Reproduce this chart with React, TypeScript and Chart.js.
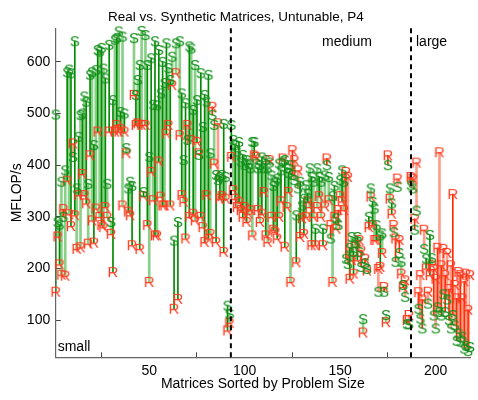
import React, { useEffect, useRef } from 'react';
import { Chart, registerables } from 'chart.js';

Chart.register(...registerables);

// Real-matrix performance (R markers), MFLOP/s, matrices 1..218 sorted by problem size
const realValues: number[] = [
  155, 262, 208, 188, 315, 186, 370, 305, 282, 442,
  303, 238, 342, 241, 383, 342, 326, 248, 419, 293,
  250, 316, 465, 300, 284, 280, 319, 300, 465, 267,
  193, 465, 478, 465, 470, 322, 465, 423, 310, 303,
  245, 536, 478, 481, 238, 478, 340, 478, 284, 174,
  387, 332, 264, 264, 407, 339, 322, 322, 461, 478,
  322, 555, 122, 578, 141, 458, 342, 329, 258, 478,
  300, 449, 306, 293, 445, 423, 300, 280, 251, 342,
  258, 267, 513, 403, 251, 481, 335, 340, 232, 335,
  80, 95, 416,
  352, 335, 319, 329, 313, 300, 319, 290, 306, 313, 264,
  419, 416, 313, 290, 306, 348, 264, 251, 410, 300,
  275, 271, 258, 300, 330, 413, 242, 319, 348, 174,
  429, 410, 212, 390, 261, 297, 267, 300, 330, 319,
  245, 300, 245, 319, 340, 300, 245, 320, 413, 332,
  284, 174, 300, 277, 313, 340, 330, 313, 387, 377,
  180, 216, 190, 242, 216, 255, 235, 76, 219, 196,
  280, 339, 284, 255, 255, 199, 203, 230, 164, 96,
  419, 335, 306, 284, 258, 374, 255, 190, 164, 177, 100, 110, 377,
  374, 296, 405, 154, 187, 140, 275, 200, 155, 187,
  206, 199, 180, 240, 425, 206, 238, 187, 230, 160,
  206, 344, 168, 142, 193, 187, 142, 175, 190, 120, 187,
];

// Synthetic-matrix performance (S markers)
const synthValues: number[] = [
  498, 290, 285, 368, 300, 390, 580, 585, 578, 416,
  640, 355, 455, 497, 500, 533, 523, 364, 575, 580,
  439, 584, 623, 620, 627, 587, 568, 364, 633, 290,
  526, 643, 646, 659, 503, 649, 500, 433, 355, 368,
  360, 646, 536, 565, 594, 660, 348, 652, 594, 416,
  607, 517, 640, 516, 623, 539, 600, 559, 636, 588,
  565, 610, 254, 636, 290, 640, 539, 410, 520, 449,
  630, 626, 507, 594, 526, 420, 578, 474, 536, 523,
  575, 423, 497, 478, 381, 371, 377, 381, 480, 377,
  128, 112, 478,
  449, 439, 426, 445, 407, 420, 400, 410, 403, 394, 445,
  445, 403, 394, 400, 415, 394, 410, 394, 405, 380,
  360, 368, 374, 403, 390, 407, 410, 394, 385, 400,
  381, 371, 303, 355, 368, 322, 335, 361, 345, 394,
  377, 368, 277, 394, 377, 368, 277, 380, 400, 377,
  258, 340, 360, 297, 284, 371, 390, 368, 219, 209,
  240, 261, 232, 250, 261, 232, 203, 102, 210, 199,
  300, 355, 329, 316, 284, 155, 264, 268, 155, 110,
  400, 355, 326, 270, 213, 358, 230, 213, 168, 145, 92, 92, 361,
  355, 275, 312, 122, 103, 84, 238, 219, 132, 265,
  220, 109, 84, 125, 116, 109, 150, 116, 140, 100,
  84, 110, 90, 60, 74, 58, 68, 45, 50, 40, 48,
];

const xTicks: number[] = [50, 100, 150, 200];
const yTicks: number[] = [100, 200, 300, 400, 500, 600];
const regionBoundaries: number[] = [92.75, 187.1];
const regionLabels: string[] = ['small', 'medium', 'large'];

const FONT = '"Liberation Sans", Arial, Helvetica, sans-serif';
const R_COLOR = '#ff3a1e';
const S_COLOR = '#11901a';

function letterCanvas(ch: string, color: string): HTMLCanvasElement {
  const c = document.createElement('canvas');
  c.width = 16;
  c.height = 18;
  const g = c.getContext('2d')!;
  g.font = `15px ${FONT}`;
  g.fillStyle = color;
  g.textAlign = 'center';
  g.textBaseline = 'alphabetic';
  g.fillText(ch, 8, 14.4);
  return c;
}

const annotationPlugin = {
  id: 'regions',
  afterDatasetsDraw(chart: any) {
    const { ctx, chartArea, scales } = chart;
    const xs = scales.x;
    ctx.save();
    ctx.strokeStyle = '#000';
    ctx.lineWidth = 2;
    ctx.setLineDash([5, 4]);
    regionBoundaries.forEach((b) => {
      const px = xs.getPixelForValue(b);
      ctx.beginPath();
      ctx.moveTo(px, chartArea.top);
      ctx.lineTo(px, chartArea.bottom);
      ctx.stroke();
    });
    ctx.setLineDash([]);
    ctx.fillStyle = '#000';
    ctx.font = `14px ${FONT}`;
    ctx.textBaseline = 'middle';
    ctx.textAlign = 'left';
    ctx.fillText(regionLabels[0], chartArea.left + 2, chartArea.bottom - 10);
    ctx.fillText(regionLabels[1], xs.getPixelForValue(140) + 1, chartArea.top + 14);
    ctx.fillText(regionLabels[2], xs.getPixelForValue(regionBoundaries[1]) + 5, chartArea.top + 14);
    ctx.restore();
  },
};

export default function App() {
  const ref = useRef<HTMLCanvasElement | null>(null);

  useEffect(() => {
    if (!ref.current) return;
    const rImg = letterCanvas('R', R_COLOR);
    const sImg = letterCanvas('S', S_COLOR);
    const idx = realValues.map((_, i) => i);
    const pairData = (parity: number) =>
      idx
        .filter((i) => i % 2 === parity)
        .map((i) => ({ x: i + 1, y: [realValues[i], synthValues[i]] }));
    const colorFor = (dark: boolean) => (c: any) => {
      const raw = c.raw;
      if (!raw) return '#008000';
      const up = raw.y[1] >= raw.y[0];
      if (dark) return up ? '#008a00' : '#ff2a00';
      return up ? 'rgba(40,170,40,0.55)' : 'rgba(255,90,60,0.6)';
    };

    const tickFont = { family: FONT, size: 14 };
    const chart = new Chart(ref.current, {
      type: 'scatter',
      data: {
        datasets: [
          {
            type: 'bar',
            data: pairData(1) as any,
            backgroundColor: colorFor(false) as any,
            barThickness: 2,
            grouped: false,
            borderWidth: 0,
            order: 4,
          } as any,
          {
            type: 'bar',
            data: pairData(0) as any,
            backgroundColor: colorFor(true) as any,
            barThickness: 1,
            grouped: false,
            borderWidth: 0,
            order: 3,
          } as any,
          {
            type: 'scatter',
            data: realValues.map((v, i) => ({ x: i + 1, y: v })),
            pointStyle: rImg,
            pointRadius: 7,
            clip: false,
            order: 2,
          } as any,
          {
            type: 'scatter',
            data: synthValues.map((v, i) => ({ x: i + 1, y: v })),
            pointStyle: sImg,
            pointRadius: 7,
            clip: false,
            order: 1,
          } as any,
        ],
      },
      options: {
        animation: false,
        responsive: false,
        events: [],
        layout: { padding: { left: 0, right: 6.3, top: 0, bottom: 0 } },
        plugins: {
          legend: { display: false },
          tooltip: { enabled: false },
          title: {
            display: true,
            text: 'Real vs. Synthetic Matrices, Untunable, P4',
            color: '#000',
            font: { family: FONT, size: 13.5, weight: 'normal' },
            padding: { top: 9, bottom: 3.1 },
          },
        },
        scales: {
          x: {
            type: 'linear',
            min: 1,
            max: 218,
            offset: false,
            afterBuildTicks: (s: any) => {
              s.ticks = xTicks.map((v) => ({ value: v }));
            },
            afterFit: (s: any) => {
              s.height = 42.7;
            },
            grid: {
              display: true,
              drawOnChartArea: false,
              drawTicks: true,
              tickLength: -5,
              color: '#444',
            },
            border: { display: true, color: '#666', width: 1.2 },
            ticks: { padding: 10, color: '#000', font: tickFont, maxRotation: 0 },
            title: {
              display: true,
              text: 'Matrices Sorted by Problem Size',
              color: '#000',
              font: tickFont,
              padding: { top: 0, bottom: 7 },
            },
          },
          y: {
            type: 'linear',
            min: 28,
            max: 665,
            afterBuildTicks: (s: any) => {
              s.ticks = yTicks.map((v) => ({ value: v }));
            },
            afterFit: (s: any) => {
              s.width = 55.7;
            },
            grid: {
              display: true,
              drawOnChartArea: false,
              drawTicks: true,
              tickLength: -5,
              color: '#444',
            },
            border: { display: true, color: '#666', width: 1.2 },
            ticks: { padding: 10.5, color: '#000', font: tickFont },
            title: {
              display: true,
              text: 'MFLOP/s',
              color: '#000',
              font: tickFont,
              padding: { top: 9, bottom: 0 },
            },
          },
        },
      } as any,
      plugins: [annotationPlugin],
    });
    return () => chart.destroy();
  }, []);

  return (
    <div style={{ position: 'absolute', left: 0, top: 0, width: 478, height: 400, background: '#fff' }}>
      <canvas ref={ref} width={478} height={400} style={{ display: 'block' }} />
    </div>
  );
}
